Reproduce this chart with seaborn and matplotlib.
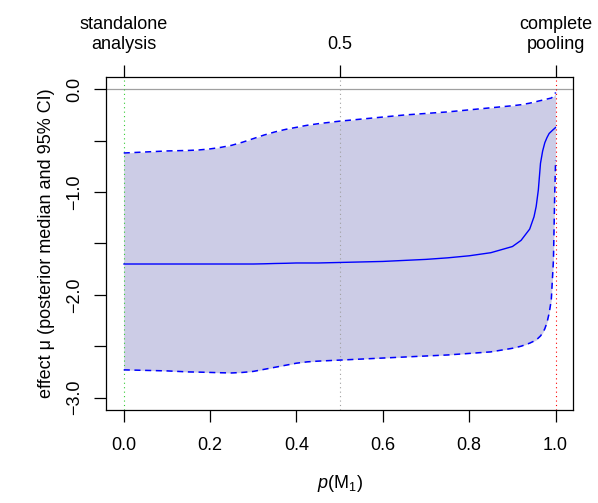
import matplotlib
matplotlib.use("Agg")
import matplotlib.pyplot as plt
import seaborn as sns
import pandas as pd

# weight of model M1 (0 = standalone, 1 = complete pooling)
p_m1 = [0.0, 0.05, 0.1, 0.15, 0.175, 0.2, 0.225, 0.25, 0.275, 0.3, 0.325, 0.35, 0.375,
        0.4, 0.425, 0.45, 0.5, 0.55, 0.6, 0.65, 0.7, 0.75, 0.8, 0.85, 0.9, 0.92, 0.94,
        0.95, 0.955, 0.96, 0.965, 0.97, 0.975, 0.98, 0.985, 0.99, 0.995, 0.998, 1.0]
# posterior median of the effect
median = [-1.70, -1.70, -1.70, -1.70, -1.70, -1.70, -1.70, -1.70, -1.70, -1.70, -1.698,
          -1.695, -1.693, -1.69, -1.69, -1.69, -1.685, -1.68, -1.675, -1.665, -1.655,
          -1.64, -1.62, -1.59, -1.53, -1.47, -1.36, -1.24, -1.14, -0.98, -0.72, -0.60,
          -0.52, -0.47, -0.43, -0.41, -0.39, -0.38, -0.37]
# 95% interval bounds
upper = [-0.62, -0.61, -0.60, -0.595, -0.59, -0.58, -0.565, -0.545, -0.515, -0.48, -0.445,
         -0.415, -0.39, -0.37, -0.35, -0.335, -0.31, -0.29, -0.27, -0.25, -0.235, -0.22,
         -0.20, -0.18, -0.16, -0.15, -0.135, -0.125, -0.12, -0.115, -0.11, -0.105, -0.10,
         -0.095, -0.09, -0.085, -0.07, -0.05, -0.03]
lower = [-2.73, -2.735, -2.74, -2.75, -2.752, -2.755, -2.758, -2.76, -2.755, -2.745, -2.725,
         -2.705, -2.685, -2.665, -2.652, -2.645, -2.635, -2.625, -2.615, -2.605, -2.595,
         -2.585, -2.57, -2.555, -2.52, -2.50, -2.47, -2.45, -2.44, -2.42, -2.40, -2.37,
         -2.33, -2.27, -2.18, -2.05, -1.66, -1.01, -0.69]

x_ticks = [0.0, 0.2, 0.4, 0.6, 0.8, 1.0]
y_ticks = [-3.0, -2.5, -2.0, -1.5, -1.0, -0.5, 0.0]
top_ticks = [0.0, 0.5, 1.0]
top_labels = ["standalone\nanalysis", "0.5", "complete\npooling"]

df = pd.DataFrame({"p": p_m1, "median": median, "upper": upper, "lower": lower})

sns.set_style("white")
plt.rcParams["font.family"] = ["Liberation Sans", "DejaVu Sans"]
plt.rcParams["mathtext.fontset"] = "custom"
plt.rcParams["mathtext.rm"] = "Liberation Sans"
plt.rcParams["mathtext.it"] = "Liberation Sans:italic"
for key in ["text.color", "axes.labelcolor", "xtick.color", "ytick.color", "axes.edgecolor"]:
    plt.rcParams[key] = "black"

fig = plt.figure(figsize=(5.98, 5.03), dpi=100)
ax = fig.add_axes([0.178, 0.185, 0.780, 0.662])

ax.fill_between(df["p"], df["lower"], df["upper"], color="#CCCCE6", lw=0)
ax.axhline(0, color="#A0A0A0", lw=0.9)
ax.axvline(0, color="#33CC33", lw=0.8, ls=(0, (1, 3)))
ax.axvline(0.5, color="#A0A0A0", lw=0.8, ls=(0, (1, 3)))
ax.axvline(1, color="red", lw=0.8, ls=(0, (1, 3)))

sns.lineplot(data=df, x="p", y="median", color="blue", lw=1.0, ax=ax)
sns.lineplot(data=df, x="p", y="upper", color="blue", lw=1.1, linestyle=(0, (4, 3)), ax=ax)
sns.lineplot(data=df, x="p", y="lower", color="blue", lw=1.1, linestyle=(0, (4, 3)), ax=ax)

ax.set_xlim(-0.04, 1.04)
ax.set_ylim(-3.12, 0.12)

ax.set_xticks(x_ticks)
ax.set_xticklabels([f"{v:.1f}" for v in x_ticks])
ax.set_yticks(y_ticks)
ax.set_yticklabels([f"{v:.1f}".replace("-", "\u2212") if v == int(v) else "" for v in y_ticks],
                   rotation=90, va="center")
ax.tick_params(axis="both", direction="out", length=8.5, width=0.9, color="black",
               labelsize=13, left=True, bottom=True)
ax.tick_params(axis="x", pad=11)
ax.tick_params(axis="y", pad=8)

top = ax.secondary_xaxis("top")
top.set_xticks(top_ticks)
top.set_xticklabels(top_labels)
top.tick_params(direction="out", length=8.5, width=0.9, labelsize=13, pad=9)
top.spines["top"].set_visible(False)

for s in ax.spines.values():
    s.set_color("black")
    s.set_linewidth(0.9)

ax.set_xlabel(r"$p(\mathrm{M}_1)$", fontsize=13, labelpad=14)
ax.set_ylabel("effect \u03bc (posterior median and 95% CI)", fontsize=13, labelpad=8)

fig.savefig("out.png", dpi=100)
